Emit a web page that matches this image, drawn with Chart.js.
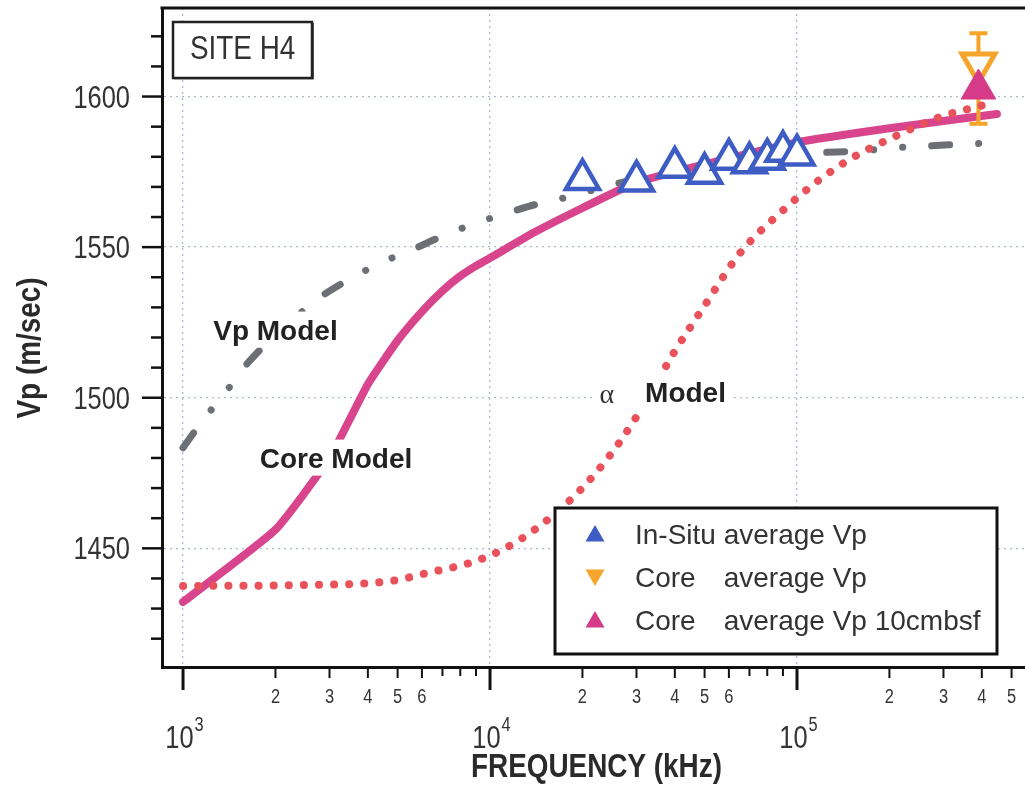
<!DOCTYPE html>
<html>
<head>
<meta charset="utf-8">
<script src="https://cdn.jsdelivr.net/npm/chart.js@4.4.1/dist/chart.umd.min.js"></script>
<style>
  html, body { margin: 0; padding: 0; background: #fff; overflow: hidden; }
  canvas { display: block; }
</style>
</head>
<body>
<canvas id="chart" width="1025" height="786"></canvas>
<script>
// ---- data ----
// Vp Model (grey dash-dot-dot)
const vpModelFreq = [1000, 1150, 1380, 1650, 2770, 3340, 4350, 5650, 6870, 9000, 11600, 14100, 18200, 24000, 35000, 50000, 70000, 110000, 164000, 208000, 292000, 448000];
const vpModelVp = [1483.4, 1492, 1502, 1512.3, 1533, 1538.3, 1544.5, 1549.4, 1553.3, 1558, 1561.6, 1564.2, 1566.8, 1570.2, 1574.2, 1577, 1579.3, 1581.2, 1582, 1583, 1583.8, 1584.7];

// Core Model (magenta solid)
const coreModelFreq = [1000, 2000, 3000, 4000, 5000, 6000, 7000, 8000, 9000, 10000, 14000, 20000, 30000, 50000, 100000, 200000, 448000];
const coreModelVp = [1432.2, 1456.2, 1480, 1504.5, 1519, 1528.6, 1535.5, 1540.4, 1543.8, 1546.4, 1555, 1563, 1571.5, 1577.5, 1584.8, 1589.5, 1594.2];

// alpha Model (red dotted)
const alphaModelFreq = [1000, 2400, 4800, 6050, 9400, 12800, 17800, 22000, 26500, 33200, 39200, 49800, 65200, 90000, 118800, 148800, 213000, 292000, 400000];
const alphaModelVp = [1437.5, 1437.8, 1439.2, 1441.5, 1446.5, 1453.5, 1465, 1474.8, 1485.4, 1501, 1514, 1530.3, 1548, 1562.2, 1572.5, 1579.2, 1587.2, 1593.2, 1597];

// In-Situ average Vp (open blue triangles)
const insituFreq = [20000, 30000, 40000, 50000, 60000, 70000, 80000, 90000, 100000];
const insituVp = [1572.5, 1572, 1576.5, 1574.5, 1579.2, 1578, 1579.2, 1581.8, 1580.6];

// Core average Vp (orange, with error bar)
const coreAvgFreq = [390000];
const coreAvgVp = [1611];
const coreAvgLow = [1591];
const coreAvgHigh = [1621];

// Core average Vp 10cmbsf (filled magenta triangle)
const core10Freq = [390000];
const core10Vp = [1602.5];

// axes
const xDecades = [1000, 10000, 100000];
const xLabelDigits = [2, 3, 4, 5, 6];
const yTickLabels = [1450, 1500, 1550, 1600];
const X_MIN = 854, X_MAX = 553000;
const Y_MIN = 1410.6, Y_MAX = 1629.4;

const legendLabels = [
  ["In-Situ", "average Vp"],
  ["Core", "average Vp"],
  ["Core", "average Vp 10cmbsf"],
];

// ---- style ----
const SANS = "'Liberation Sans', Arial, sans-serif";
const SERIF = "'Liberation Serif', 'DejaVu Serif', serif";
const SQUEEZE = 0.82; // figure uses a narrow face
const BLUE = "#3d5cc4";
const ORANGE = "#f5a52c";
const MAGENTA = "#d53b88";
const CORE_LINE = "#d8458c";
const RED = "#e9525a";
const GREY = "#6c6f74";
const GRID = "#aab8d2";
const TEXT = "#333";

const xTickValues = [];
xDecades.forEach((d) => {
  for (let k = 1; k <= 9; k++) {
    if (k * d <= X_MAX) xTickValues.push(k * d);
  }
});
const yTickValues = [];
for (let v = 1420; v <= 1620; v += 10) yTickValues.push(v);

function leadDigit(v) {
  return Math.round(v / Math.pow(10, Math.floor(Math.log10(v) + 1e-9)));
}
function pts(xs, ys) {
  return xs.map((x, i) => ({ x: x, y: ys[i] }));
}

// narrow text: regular face squeezed horizontally
function narrowText(ctx, text, x, y, font, align, baseline) {
  ctx.save();
  ctx.font = font;
  ctx.textAlign = align || "left";
  ctx.textBaseline = baseline || "alphabetic";
  ctx.translate(x, y);
  ctx.scale(SQUEEZE, 1);
  ctx.fillText(text, 0, 0);
  ctx.restore();
}
function narrowWidth(ctx, text, font) {
  ctx.save();
  ctx.font = font;
  const w = ctx.measureText(text).width * SQUEEZE;
  ctx.restore();
  return w;
}

function triangle(ctx, x, y, r, down) {
  const s = down ? -1 : 1;
  ctx.beginPath();
  ctx.moveTo(x, y - s * r);
  ctx.lineTo(x + r * 0.866, y + s * r * 0.5);
  ctx.lineTo(x - r * 0.866, y + s * r * 0.5);
  ctx.closePath();
  ctx.fill();
}

const decor = {
  id: "decor",
  afterDatasetDraw(chart, args) {
    if (chart.data.datasets[args.index].label !== "Core Model") return;
    // error bar for core average
    const { ctx } = chart;
    const xs = chart.scales.x, ys = chart.scales.y;
    ctx.save();
    ctx.strokeStyle = ORANGE;
    ctx.lineWidth = 4;
    coreAvgFreq.forEach((f, i) => {
      const px = xs.getPixelForValue(f);
      const top = ys.getPixelForValue(coreAvgHigh[i]);
      const bot = ys.getPixelForValue(coreAvgLow[i]);
      ctx.beginPath();
      ctx.moveTo(px, top);
      ctx.lineTo(px, bot);
      ctx.moveTo(px - 9, top);
      ctx.lineTo(px + 9, top);
      ctx.moveTo(px - 9, bot);
      ctx.lineTo(px + 9, bot);
      ctx.stroke();
    });
    ctx.restore();
  },
  afterDatasetsDraw(chart) {
    const { ctx } = chart;
    const xs = chart.scales.x, ys = chart.scales.y;
    ctx.save();
    ctx.textBaseline = "alphabetic";

    // model labels on white backing
    const bold = `bold 28px ${SANS}`;
    const labels = [
      { cx: xs.getPixelForValue(2000), base: ys.getPixelForValue(1519.3), text: "Vp Model" },
      { cx: xs.getPixelForValue(3150), base: ys.getPixelForValue(1476.8), text: "Core Model" },
    ];
    labels.forEach((l) => {
      ctx.font = bold;
      const w = ctx.measureText(l.text).width;
      ctx.fillStyle = "#fff";
      ctx.fillRect(l.cx - w / 2 - 6, l.base - 28, w + 12, 36);
      ctx.fillStyle = "#222";
      ctx.textAlign = "center";
      ctx.fillText(l.text, l.cx, l.base);
    });
    // alpha Model
    const mx = xs.getPixelForValue(32000);
    const ax = xs.getPixelForValue(24000);
    const mb = ys.getPixelForValue(1498.7);
    ctx.font = bold;
    const mw = ctx.measureText("Model").width;
    ctx.fillStyle = "#fff";
    ctx.fillRect(ax - 12, mb - 30, mx + mw - ax + 18, 40);
    ctx.fillStyle = "#222";
    ctx.textAlign = "left";
    ctx.fillText("Model", mx, mb);
    ctx.font = `28px ${SERIF}`;
    ctx.textAlign = "center";
    ctx.fillStyle = "#333";
    ctx.fillText("\u03b1", ax, mb + 1);

    // SITE H4 box
    ctx.fillStyle = "#fff";
    ctx.fillRect(173, 22, 139, 56);
    ctx.strokeStyle = "#222";
    ctx.lineWidth = 2.5;
    ctx.strokeRect(173, 22, 139, 56);
    ctx.beginPath();
    ctx.moveTo(174, 78.5);
    ctx.lineTo(313, 78.5);
    ctx.lineTo(313, 23);
    ctx.lineWidth = 1.5;
    ctx.stroke();
    ctx.fillStyle = TEXT;
    narrowText(ctx, "SITE H4", 190, 59, `34px ${SANS}`, "left");

    // legend
    const lx = 555, ly = 508, lw = 442, lh = 146;
    ctx.fillStyle = "#fff";
    ctx.fillRect(lx, ly, lw, lh);
    ctx.strokeStyle = "#111";
    ctx.lineWidth = 3;
    ctx.strokeRect(lx, ly, lw, lh);
    const colors = [BLUE, ORANGE, MAGENTA];
    const down = [false, true, false];
    ctx.font = `28px ${SANS}`;
    const restX = 635 + ctx.measureText(legendLabels[0][0] + " ").width;
    legendLabels.forEach((lab, i) => {
      const cy = 534 + i * 43;
      ctx.fillStyle = colors[i];
      triangle(ctx, 595, cy + (down[i] ? -2 : 2), 11, down[i]);
      ctx.fillStyle = TEXT;
      ctx.textAlign = "left";
      ctx.font = `28px ${SANS}`;
      ctx.fillText(lab[0], 635, cy + 10);
      ctx.fillText(lab[1], restX, cy + 10);
    });
    ctx.restore();
  },
  afterDraw(chart) {
    const { ctx, chartArea: area } = chart;
    const xs = chart.scales.x, ys = chart.scales.y;
    ctx.save();
    ctx.strokeStyle = "#111";
    // top frame
    ctx.lineWidth = 3;
    ctx.beginPath();
    ctx.moveTo(area.left - 1.5, area.top);
    ctx.lineTo(area.right + 2, area.top);
    ctx.stroke();
    // x tick marks and labels
    ctx.fillStyle = TEXT;
    xTickValues.forEach((v) => {
      const px = xs.getPixelForValue(v);
      const d = leadDigit(v);
      const major = xDecades.includes(v);
      const labelled = !major && xLabelDigits.includes(d);
      const len = major ? 23 : labelled ? 11 : 9;
      ctx.lineWidth = major ? 3 : 2;
      ctx.beginPath();
      ctx.moveTo(px, area.bottom);
      ctx.lineTo(px, area.bottom + len);
      ctx.stroke();
      if (labelled) narrowText(ctx, String(d), px, area.bottom + 36, `20px ${SANS}`, "center");
    });
    // y tick marks and labels
    yTickValues.forEach((v) => {
      const py = ys.getPixelForValue(v);
      const labelled = yTickLabels.includes(v);
      const len = labelled ? 20 : 11;
      ctx.lineWidth = 2.5;
      ctx.beginPath();
      ctx.moveTo(area.left - len, py);
      ctx.lineTo(area.left, py);
      ctx.stroke();
      if (labelled) narrowText(ctx, String(v), area.left - 32, py + 11, `31px ${SANS}`, "right");
    });
    // decade labels 10^n
    xDecades.forEach((d) => {
      const px = xs.getPixelForValue(d);
      const exp = String(Math.round(Math.log10(d)));
      const w1 = narrowWidth(ctx, "10", `31px ${SANS}`);
      const w2 = narrowWidth(ctx, exp, `20px ${SANS}`);
      const start = px - (w1 + w2) / 2 + 1;
      narrowText(ctx, "10", start, 748, `31px ${SANS}`, "left");
      narrowText(ctx, exp, start + w1 + 1, 731, `20px ${SANS}`, "left");
    });
    // axis titles
    ctx.fillStyle = "#2a2a2a";
    narrowText(ctx, "FREQUENCY (kHz)", (area.left + area.right) / 2 + 3, 777, `bold 34px ${SANS}`, "center");
    ctx.translate(31, 348);
    ctx.rotate(-Math.PI / 2);
    narrowText(ctx, "Vp (m/sec)", 0, 0, `bold 34px ${SANS}`, "center", "middle");
    ctx.restore();
  },
};

const ctx = document.getElementById("chart").getContext("2d");

const config = {
  type: "scatter",
  data: {
    datasets: [
      {
        label: "Core average Vp 10cmbsf",
        data: pts(core10Freq, core10Vp),
        pointStyle: "triangle",
        pointRadius: 20,
        backgroundColor: MAGENTA,
        borderColor: MAGENTA,
        borderWidth: 1,
        order: 0,
      },
      {
        label: "Core average Vp",
        data: pts(coreAvgFreq, coreAvgVp),
        pointStyle: "triangle",
        rotation: 180,
        pointRadius: 19,
        backgroundColor: "#fff",
        borderColor: ORANGE,
        borderWidth: 5,
        order: 1,
      },
      {
        label: "In-Situ average Vp",
        data: pts(insituFreq, insituVp),
        pointStyle: "triangle",
        pointRadius: 19,
        backgroundColor: "#fff",
        borderColor: BLUE,
        borderWidth: 4.5,
        order: 2,
      },
      {
        label: "alpha Model",
        data: pts(alphaModelFreq, alphaModelVp),
        showLine: true,
        pointRadius: 0,
        borderColor: RED,
        borderWidth: 8,
        borderDash: [0.1, 15],
        borderCapStyle: "round",
        cubicInterpolationMode: "monotone",
        order: 3,
      },
      {
        label: "Core Model",
        data: pts(coreModelFreq, coreModelVp),
        showLine: true,
        pointRadius: 0,
        borderColor: CORE_LINE,
        borderWidth: 8,
        borderCapStyle: "round",
        borderJoinStyle: "round",
        tension: 0.15,
        order: 4,
      },
      {
        label: "Vp Model",
        data: pts(vpModelFreq, vpModelVp),
        showLine: true,
        pointRadius: 0,
        borderColor: GREY,
        borderWidth: 7,
        borderDash: [18, 29, 0.1, 29, 0.1, 29],
        borderCapStyle: "round",
        cubicInterpolationMode: "monotone",
        order: 5,
      },
    ],
  },
  options: {
    responsive: false,
    animation: false,
    layout: { autoPadding: false, padding: { top: 8, left: 0, right: 0, bottom: 0 } },
    plugins: {
      legend: { display: false },
      tooltip: { enabled: false },
    },
    scales: {
      x: {
        type: "logarithmic",
        min: X_MIN,
        max: X_MAX,
        afterBuildTicks(scale) {
          scale.ticks = xTickValues.map((v) => ({ value: v, major: xDecades.includes(v) }));
        },
        afterFit(scale) {
          scale.height = 119;
        },
        ticks: { display: false },
        grid: {
          drawTicks: false,
          lineWidth: 1.3,
          color: (c) => (c.tick && xDecades.includes(c.tick.value) ? GRID : "rgba(0,0,0,0)"),
        },
        border: { display: true, width: 3, color: "#111", dash: [2, 4] },
      },
      y: {
        min: Y_MIN,
        max: Y_MAX,
        afterBuildTicks(scale) {
          scale.ticks = yTickValues.map((v) => ({ value: v }));
        },
        afterFit(scale) {
          scale.width = 162;
        },
        ticks: { display: false },
        grid: {
          drawTicks: false,
          lineWidth: 1.3,
          color: (c) => (c.tick && yTickLabels.includes(c.tick.value) ? GRID : "rgba(0,0,0,0)"),
        },
        border: { display: true, width: 3, color: "#111", dash: [2, 4] },
      },
    },
  },
  plugins: [decor],
};

new Chart(ctx, config);
</script>
</body>
</html>
